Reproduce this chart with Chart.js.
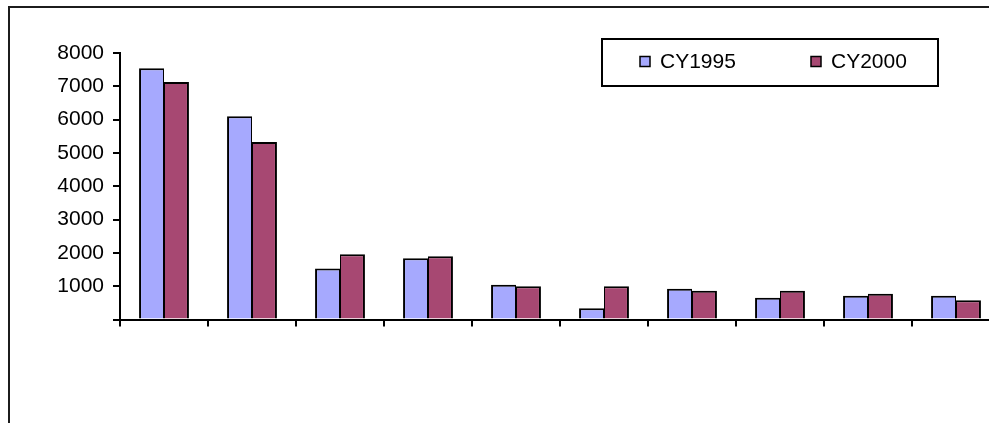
<!DOCTYPE html>
<html>
<head>
<meta charset="utf-8">
<script src="https://cdn.jsdelivr.net/npm/chart.js@4/dist/chart.umd.min.js"></script>
<style>
  html, body { margin: 0; padding: 0; background: #fff; overflow: hidden; }
  #wrap { position: relative; width: 989px; height: 423px; overflow: hidden; }
  #frame { position: absolute; left: 8px; top: 6px; width: 1200px; height: 700px;
           border: 2px solid #1c1c1c; box-sizing: border-box; }
  #c { position: absolute; left: 0; top: 0; }
</style>
</head>
<body>
<div id="wrap">
  <div id="frame"></div>
  <canvas id="c" width="1008" height="423"></canvas>
</div>
<script>
// Ten unlabelled categories, two calendar years
const categories = ['', '', '', '', '', '', '', '', '', ''];
const seriesNames = ['CY1995', 'CY2000'];
const cy1995 = [7540, 6100, 1530, 1840, 1040, 340, 920, 650, 710, 710];
const cy2000 = [7130, 5330, 1960, 1900, 1000, 1000, 860, 860, 770, 580];
const yTicks = [0, 1000, 2000, 3000, 4000, 5000, 6000, 7000, 8000];

const FONT = "'Liberation Sans', Arial, sans-serif";
const colors = ['#A6A9FE', '#A74872'];

// Boxed legend drawn in the upper right
const boxLegend = {
  id: 'boxLegend',
  afterDraw(chart) {
    const ctx = chart.ctx;
    ctx.save();
    ctx.lineWidth = 2;
    ctx.strokeStyle = '#000';
    ctx.strokeRect(602, 39, 336, 47);
    const xs = [640, 811];
    chart.data.datasets.forEach((ds, i) => {
      ctx.fillStyle = ds.backgroundColor;
      ctx.fillRect(xs[i], 56.5, 10, 10);
      ctx.lineWidth = 1.5;
      ctx.strokeRect(xs[i], 56.5, 10, 10);
      ctx.fillStyle = '#000';
      ctx.font = '21px ' + FONT;
      ctx.textBaseline = 'middle';
      ctx.textAlign = 'left';
      ctx.fillText(ds.label, xs[i] + 20, 62);
    });
    ctx.restore();
  }
};

new Chart(document.getElementById('c'), {
  type: 'bar',
  data: {
    labels: categories,
    datasets: [
      { label: seriesNames[0], data: cy1995, backgroundColor: colors[0], borderColor: '#000',
        borderWidth: { top: 2, left: 2, right: 1, bottom: 0 } },
      { label: seriesNames[1], data: cy2000, backgroundColor: colors[1], borderColor: '#000',
        borderWidth: { top: 2, left: 1, right: 2, bottom: 0 } }
    ]
  },
  options: {
    responsive: false,
    animation: false,
    devicePixelRatio: 1,
    layout: { padding: { left: 0, right: 8, top: 53, bottom: 0 } },
    datasets: { bar: { categoryPercentage: 0.567, barPercentage: 1.0 } },
    plugins: { legend: { display: false }, tooltip: { enabled: false } },
    scales: {
      x: {
        offset: true,
        grid: { offset: true, drawOnChartArea: false, drawTicks: true, tickLength: 7,
                color: '#000', lineWidth: 2 },
        border: { display: true, color: '#000', width: 2 },
        ticks: { display: true, font: { family: FONT, size: 21 }, color: '#000' },
        afterFit(scale) { scale.height = 103.5; }
      },
      y: {
        min: 0, max: 8000,
        afterBuildTicks(scale) { scale.ticks = yTicks.map(v => ({ value: v })); },
        grid: { drawOnChartArea: false, drawTicks: true, tickLength: 7, color: '#000', lineWidth: 2 },
        border: { display: true, color: '#000', width: 2 },
        ticks: {
          padding: 9,
          color: '#000',
          font: { family: FONT, size: 21 },
          callback: v => (v === 0 ? '' : String(v))
        },
        afterFit(scale) { scale.width = 120; }
      }
    }
  },
  plugins: [boxLegend]
});
</script>
</body>
</html>
